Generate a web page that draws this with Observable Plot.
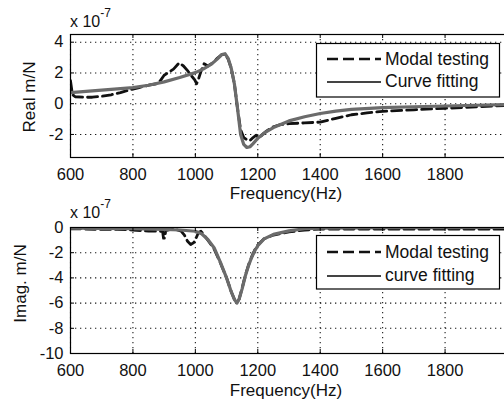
<!DOCTYPE html>
<html><head><meta charset="utf-8">
<script src="https://cdn.jsdelivr.net/npm/d3@7"></script>
<script src="https://cdn.jsdelivr.net/npm/@observablehq/plot@0.6"></script>
<style>
body{margin:0;background:#fff;}
#wrap{width:504px;height:400px;overflow:hidden;position:relative;background:#fff;}
#wrap svg{display:block;}
</style></head><body><div id="wrap"></div>
<script>
const xTicks = [600, 800, 1000, 1200, 1400, 1600, 1800];
const realTicks = [-2, 0, 2, 4];
const imagTicks = [-10, -8, -6, -4, -2, 0];

const modalRealFreq = [600, 602, 606, 615, 640, 670, 700, 730, 760, 790, 820, 850, 875, 888, 900, 915, 930, 948, 962, 975, 988, 998, 1004, 1010, 1018, 1028, 1040, 1055, 1070, 1085, 1095, 1105, 1115, 1125, 1135, 1145, 1155, 1165, 1175, 1185, 1195, 1205, 1215, 1230, 1250, 1275, 1300, 1350, 1400, 1450, 1500, 1550, 1600, 1700, 1800, 1900, 2000];
const modalReal = [1.5, 1.2, 0.6, 0.45, 0.42, 0.42, 0.48, 0.58, 0.72, 0.9, 1.05, 1.2, 1.3, 1.5, 1.85, 2.05, 2.25, 2.65, 2.45, 2.15, 1.8, 1.55, 1.3, 1.6, 2.1, 2.6, 2.45, 2.65, 2.95, 3.2, 3.22, 2.9, 2.3, 1.3, -0.3, -1.7, -2.2, -2.35, -2.4, -2.2, -2.05, -2.25, -2.0, -1.75, -1.5, -1.35, -1.3, -1.25, -1.2, -0.95, -0.72, -0.6, -0.5, -0.4, -0.3, -0.2, -0.12];

const fitRealFreq = [600, 650, 700, 750, 800, 850, 900, 950, 1000, 1025, 1050, 1070, 1085, 1095, 1105, 1115, 1125, 1135, 1145, 1155, 1165, 1175, 1185, 1200, 1225, 1250, 1300, 1350, 1400, 1450, 1500, 1600, 1700, 1800, 1900, 2000];
const fitReal = [0.72, 0.8, 0.88, 0.96, 1.05, 1.2, 1.42, 1.7, 2.02, 2.25, 2.55, 2.9, 3.2, 3.25, 2.95, 2.3, 1.3, -0.3, -2.0, -2.65, -2.85, -2.8, -2.6, -2.25, -1.85, -1.55, -1.12, -0.85, -0.64, -0.48, -0.37, -0.26, -0.2, -0.15, -0.1, -0.05];

const modalImagFreq = [600, 650, 700, 750, 800, 850, 880, 895, 898, 902, 905, 930, 955, 965, 975, 985, 995, 1003, 1010, 1018, 1028, 1040, 1060, 1080, 1100, 1115, 1125, 1133, 1140, 1150, 1160, 1170, 1180, 1190, 1200, 1220, 1250, 1300, 1350, 1400, 1500, 1600, 1800, 2000];
const modalImag = [-0.1, -0.12, -0.15, -0.15, -0.2, -0.28, -0.3, -0.3, -0.85, -0.85, -0.25, -0.1, -0.3, -0.6, -1.1, -1.35, -1.2, -0.8, -0.4, -0.3, -0.6, -1.0, -1.7, -2.8, -4.0, -5.1, -5.7, -5.95, -5.7, -4.8, -3.8, -3.0, -2.35, -1.8, -1.4, -0.9, -0.6, -0.35, -0.2, -0.12, -0.12, -0.13, -0.13, -0.13];

const fitImagFreq = [600, 700, 800, 900, 950, 1000, 1020, 1040, 1060, 1080, 1100, 1115, 1125, 1133, 1140, 1150, 1160, 1170, 1180, 1190, 1200, 1220, 1250, 1300, 1350, 1400, 1500, 1600, 1800, 2000];
const fitImag = [-0.05, -0.07, -0.1, -0.15, -0.2, -0.3, -0.5, -0.95, -1.6, -2.75, -4.0, -5.1, -5.7, -6.0, -5.7, -4.85, -3.85, -3.05, -2.4, -1.85, -1.45, -0.9, -0.55, -0.27, -0.1, -0.05, -0.03, -0.02, -0.01, 0];

const legendTop = ["Modal testing", "Curve fitting"];
const legendBottom = ["Modal testing", "curve fitting"];
const yLabels = ["Real m/N", "Imag. m/N"];
const xLabel = "Frequency(Hz)";

const FONT = "'Liberation Sans', Arial, sans-serif";
const GRAY = "#6b6b6b";
const fmt = d => String(d);

function panel(o) {
  const W = 504, H = 200, ML = 70, MR = -3;
  const frameH = H - o.marginTop - o.marginBottom;
  const frameW = W - ML - MR;
  const modal = o.modalF.map((f, i) => ({f, v: o.modalV[i]}));
  const fit = o.fitF.map((f, i) => ({f, v: o.fitV[i]}));
  const svg = Plot.plot({
    width: W, height: H, marginLeft: ML, marginRight: MR,
    marginTop: o.marginTop, marginBottom: o.marginBottom,
    style: {fontFamily: FONT, fontSize: "16.5px", color: "#111", background: "white", overflow: "visible"},
    x: {domain: [600, 2000]},
    y: {domain: o.yDomain},
    marks: [
      Plot.gridX(xTicks, {stroke: "#000", strokeOpacity: 0.9, strokeWidth: 1.1, strokeDasharray: "1.3,3.7"}),
      Plot.gridY(o.yTicks, {stroke: "#000", strokeOpacity: 0.9, strokeWidth: 1.1, strokeDasharray: "1.3,3.7"}),
      Plot.line(modal, {x: "f", y: "v", stroke: "#111", strokeWidth: 2.8, strokeDasharray: "10,5", clip: true}),
      Plot.line(fit, {x: "f", y: "v", stroke: GRAY, strokeWidth: 3.2, clip: true}),
      Plot.tickX(xTicks, {x: d => d, stroke: "#000", insetTop: frameH - 4}),
      Plot.tickX(xTicks, {x: d => d, stroke: "#000", insetBottom: frameH - 4}),
      Plot.tickY(o.yTicks, {y: d => d, stroke: "#000", insetRight: frameW - 4}),
      Plot.frame({stroke: "#000", strokeWidth: 1.2}),
      Plot.axisX(xTicks, {tickSize: 0, tickPadding: 11, label: null, fontSize: 16.5, tickFormat: fmt}),
      Plot.axisY(o.yTicks, {tickSize: 0, tickPadding: 7, label: null, fontSize: 16.5, tickFormat: fmt}),
      Plot.text([xLabel], {frameAnchor: "bottom", text: d => d, dy: o.xLabelDy, dx: -3, fontSize: 17}),
      Plot.text([o.yLabel], {frameAnchor: "left", text: d => d, rotate: -90, textAnchor: "middle", dx: o.yLabelDx, dy: o.yLabelDy, fontSize: 17})
    ]
  });
  const s = d3.select(svg);
  // exponent label
  const ex = s.append("text").attr("x", 70).attr("y", o.expY).attr("text-anchor", "start")
    .attr("font-family", FONT).attr("font-size", 16).attr("fill", "#111");
  ex.append("tspan").text("x 10");
  ex.append("tspan").attr("dy", -10).attr("font-size", 12).text("-7");
  // legend
  const L = o.legend;
  const g = s.append("g").attr("text-anchor", "start");
  g.append("rect").attr("x", 316.5).attr("y", L.y).attr("width", 183).attr("height", L.h)
    .attr("fill", "white").attr("stroke", "#000").attr("stroke-width", 1.2);
  g.append("line").attr("x1", 327).attr("x2", 381).attr("y1", L.l1).attr("y2", L.l1)
    .attr("stroke", "#111").attr("stroke-width", 2.6).attr("stroke-dasharray", "11,5");
  g.append("line").attr("x1", 327).attr("x2", 381).attr("y1", L.l2).attr("y2", L.l2)
    .attr("stroke", "#444").attr("stroke-width", 1.8);
  g.append("text").attr("x", 385).attr("y", L.t1).attr("font-family", FONT).attr("font-size", 17.5).attr("fill", "#111").text(L.labels[0]);
  g.append("text").attr("x", 385).attr("y", L.t2).attr("font-family", FONT).attr("font-size", 17.5).attr("fill", "#111").text(L.labels[1]);
  return svg;
}

const wrap = document.getElementById("wrap");
wrap.appendChild(panel({
  yDomain: [-3.5, 4.5], yTicks: realTicks, yLabel: yLabels[0], yLabelDx: -40.5, yLabelDy: 1,
  modalF: modalRealFreq, modalV: modalReal, fitF: fitRealFreq, fitV: fitReal,
  marginTop: 34, marginBottom: 43, expY: 26.5, xLabelDy: 41,
  legend: {y: 43.5, h: 53.5, l1: 59, l2: 82, t1: 65, t2: 87, labels: legendTop}
}));
wrap.appendChild(panel({
  yDomain: [-10, 0], yTicks: imagTicks, yLabel: yLabels[1], yLabelDx: -49.5, yLabelDy: -7,
  modalF: modalImagFreq, modalV: modalImag, fitF: fitImagFreq, fitV: fitImag,
  marginTop: 27, marginBottom: 47, expY: 17.5, xLabelDy: 42,
  legend: {y: 35.5, h: 53.5, l1: 52, l2: 76, t1: 58, t2: 81, labels: legendBottom}
}));
</script>
</body></html>
